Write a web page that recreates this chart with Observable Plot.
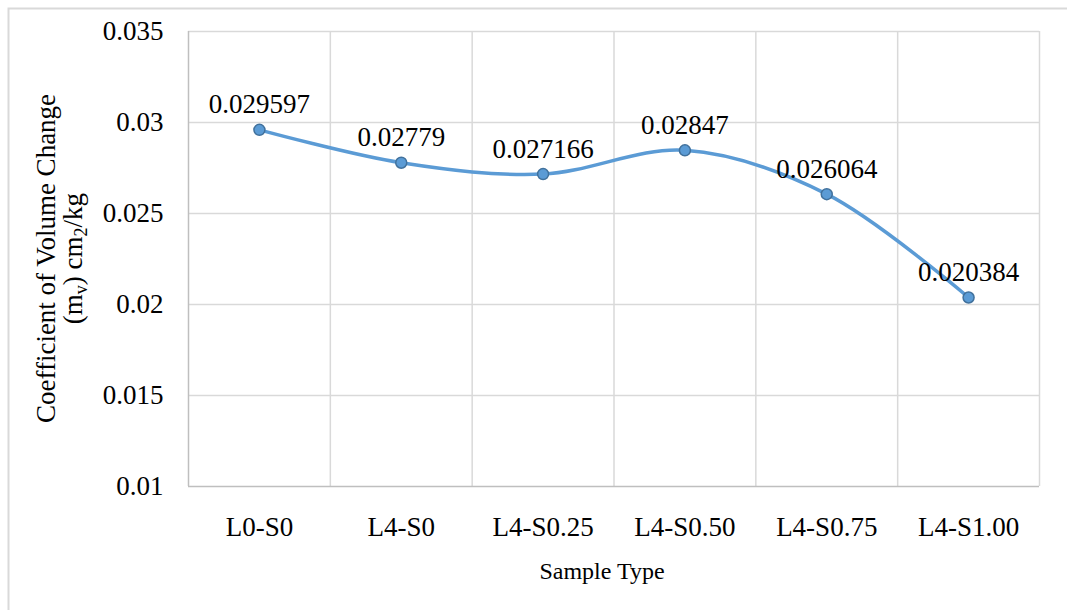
<!DOCTYPE html>
<html>
<head>
<meta charset="utf-8">
<script src="https://cdn.jsdelivr.net/npm/d3@7"></script>
<script src="https://cdn.jsdelivr.net/npm/@observablehq/plot@0.6"></script>
<style>
  html, body { margin: 0; padding: 0; background: #fff; }
  #chart { width: 1067px; height: 610px; overflow: hidden; }
</style>
</head>
<body>
<div id="chart"></div>
<script>
const categories = ["L0-S0", "L4-S0", "L4-S0.25", "L4-S0.50", "L4-S0.75", "L4-S1.00"];
const values = [0.029597, 0.02779, 0.027166, 0.02847, 0.026064, 0.020384];
const yTicks = [0.01, 0.015, 0.02, 0.025, 0.03, 0.035];
const xTitle = "Sample Type";
const yTitleLine1 = "Coefficient of Volume Change";

const data = categories.map((c, i) => ({i, c, v: values[i]}));
const FONT = "'Liberation Serif', 'Times New Roman', serif";

const chart = Plot.plot({
  width: 1067,
  height: 610,
  marginLeft: 188,
  marginRight: 28,
  marginTop: 31,
  marginBottom: 124,
  style: {fontFamily: FONT, fontSize: "27px", color: "#000", background: "#fff"},
  x: {type: "linear", domain: [-0.5, categories.length - 0.5]},
  y: {type: "linear", domain: [yTicks[0], yTicks[yTicks.length - 1]]},
  marks: [
    Plot.ruleY(yTicks.slice(1), {stroke: "#d9d9d9", strokeWidth: 1.5}),
    Plot.ruleX(categories.map((_, i) => i + 0.5), {stroke: "#d9d9d9", strokeWidth: 1.5}),
    Plot.ruleX([-0.5], {stroke: "#bfbfbf", strokeWidth: 1.5}),
    Plot.ruleY([yTicks[0]], {stroke: "#bfbfbf", strokeWidth: 1.5}),
    Plot.axisY(yTicks, {tickSize: 0, tickPadding: 25, tickFormat: d => String(d), label: null, fontSize: 27, fontFamily: FONT}),
    Plot.axisX(categories.map((_, i) => i), {tickSize: 0, tickPadding: 30, tickFormat: i => categories[i], label: null, fontSize: 27, fontFamily: FONT}),
    Plot.line(data, {x: "i", y: "v", curve: "catmull-rom", stroke: "#5b9bd5", strokeWidth: 3.5}),
    Plot.dot(data, {x: "i", y: "v", r: 5.5, fill: "#5b9bd5", stroke: "#41719c", strokeWidth: 1.5}),
    Plot.text(data, {x: "i", y: "v", text: d => String(d.v), dy: -25, fontSize: 27, fontFamily: FONT}),
    Plot.text([xTitle], {frameAnchor: "bottom", dy: 92, dx: -12, fontSize: 24, fontFamily: FONT})
  ]
});

const svg = d3.select(chart);
// outer chart border
svg.insert("rect", ":first-child")
  .attr("x", 8.5).attr("y", 8.5).attr("width", 1080).attr("height", 620)
  .attr("fill", "none").attr("stroke", "#d9d9d9").attr("stroke-width", 2);

// y-axis title (two lines, with subscripts)
const cy = (31 + (610 - 124)) / 2;
svg.append("text")
  .attr("transform", `translate(55,${cy}) rotate(-90)`)
  .attr("text-anchor", "middle")
  .attr("font-family", FONT).attr("font-size", 27).attr("fill", "#000")
  .text(yTitleLine1);
const t2 = svg.append("text")
  .attr("transform", `translate(82,${cy}) rotate(-90)`)
  .attr("text-anchor", "middle")
  .attr("font-family", FONT).attr("font-size", 27).attr("fill", "#000");
t2.append("tspan").text("(m");
t2.append("tspan").attr("font-size", 18).attr("dy", 5).text("v");
t2.append("tspan").attr("dy", -5).text(") cm");
t2.append("tspan").attr("font-size", 18).attr("dy", 5).text("2");
t2.append("tspan").attr("dy", -5).text("/kg");

document.getElementById("chart").appendChild(chart);
</script>
</body>
</html>
